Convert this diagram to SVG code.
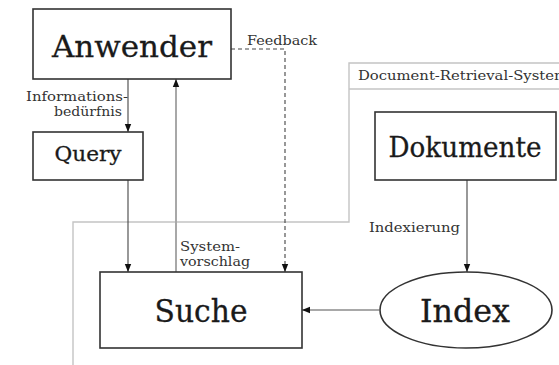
<svg xmlns="http://www.w3.org/2000/svg" width="559" height="365" viewBox="0 0 559 365">
<style>
.box{fill:#fff;stroke:#333;stroke-width:1.6}
.big{font-family:'DejaVu Serif','Liberation Serif',serif;fill:#1a1a1a;stroke:#1a1a1a;stroke-width:0.3}
.sm{font-family:'DejaVu Serif','Liberation Serif',serif;fill:#333;font-size:12px}
.frame{fill:none;stroke:#c4c4c4;stroke-width:1.4}
.edge{fill:none;stroke:#444;stroke-width:1.1}
.gedge{fill:none;stroke:#a8a8a8;stroke-width:2}
</style>
<defs>
<marker id="ah" viewBox="0 0 8 8" refX="8" refY="4" markerWidth="8" markerHeight="8" markerUnits="userSpaceOnUse" orient="auto">
<path d="M0,0.8 L8,4 L0,7.2 Z" fill="#111"/>
</marker>
</defs>
<g id="frame">
<path class="frame" d="M73,365 L73,222 L349,222 L349,63 L559,63"/>
<line class="frame" x1="349" y1="89" x2="559" y2="89"/>
<text class="sm" x="358" y="80" textLength="210" lengthAdjust="spacingAndGlyphs">Document-Retrieval-System</text>
</g>
<g id="connectors">
<line class="edge" x1="128" y1="79" x2="128" y2="132" marker-end="url(#ah)"/>
<line class="edge" x1="128" y1="180" x2="128" y2="272" marker-end="url(#ah)"/>
<line class="gedge" x1="176" y1="272" x2="176" y2="79" marker-end="url(#ah)"/>
<path class="edge" d="M231,49 L285,49 L285,272" stroke-dasharray="4,3" marker-end="url(#ah)"/>
<line class="edge" x1="467" y1="180" x2="467" y2="272" marker-end="url(#ah)"/>
<line class="gedge" x1="379" y1="310" x2="302" y2="310" marker-end="url(#ah)"/>
<text class="sm" x="128" y="101" text-anchor="end" textLength="102" lengthAdjust="spacingAndGlyphs">Informations-</text>
<text class="sm" x="88" y="116" text-anchor="middle" textLength="68" lengthAdjust="spacingAndGlyphs">bedürfnis</text>
<text class="sm" x="247" y="45" textLength="70" lengthAdjust="spacingAndGlyphs">Feedback</text>
<text class="sm" x="180" y="251" textLength="60" lengthAdjust="spacingAndGlyphs">System-</text>
<text class="sm" x="180" y="266" textLength="70" lengthAdjust="spacingAndGlyphs">vorschlag</text>
<text class="sm" x="369" y="232" textLength="91" lengthAdjust="spacingAndGlyphs">Indexierung</text>
</g>
<g id="anwender">
<rect class="box" x="33" y="9" width="198" height="70"/>
<text class="big" x="132" y="57" font-size="30" text-anchor="middle" textLength="160" lengthAdjust="spacingAndGlyphs">Anwender</text>
</g>
<g id="query">
<rect class="box" x="33" y="132" width="110" height="48"/>
<text class="big" x="88" y="161" font-size="20" text-anchor="middle" textLength="67" lengthAdjust="spacingAndGlyphs">Query</text>
</g>
<g id="dokumente">
<rect class="box" x="375" y="112" width="181" height="68"/>
<text class="big" x="465" y="157" font-size="27" text-anchor="middle" textLength="153" lengthAdjust="spacingAndGlyphs">Dokumente</text>
</g>
<g id="suche">
<rect class="box" x="100" y="272" width="202" height="76"/>
<text class="big" x="201" y="322" font-size="31" text-anchor="middle" textLength="93" lengthAdjust="spacingAndGlyphs">Suche</text>
</g>
<g id="index">
<ellipse class="box" cx="466" cy="310" rx="86" ry="38"/>
<text class="big" x="465" y="322" font-size="31" text-anchor="middle" textLength="90" lengthAdjust="spacingAndGlyphs">Index</text>
</g>
</svg>
